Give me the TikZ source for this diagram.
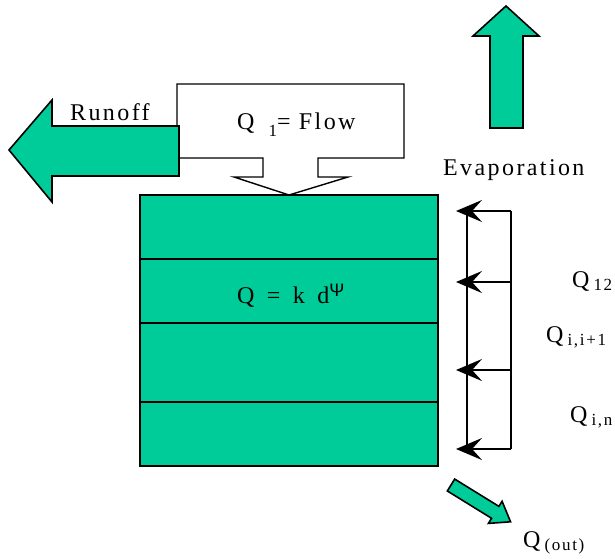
\documentclass[tikz,border=0pt]{standalone}
\usepackage{fontspec}
\setmainfont{Liberation Serif}[LetterSpace=10]
\newfontfamily\symfont{Liberation Sans}
\usetikzlibrary{arrows.meta}
\definecolor{soil}{HTML}{00CC99}
\newcommand{\lfont}{\fontsize{24}{28}\selectfont}
\newcommand{\lowsub}[2][3pt]{\hspace{4pt}{\fontsize{17}{18}\selectfont\raisebox{-#1}{#2}}}
\tikzset{
  fat/.style={draw=black,line width=1.6pt,fill=soil,line join=miter},
  callout/.style={draw=black,line width=1.4pt,fill=white},
  lbl/.style={font=\lfont,inner sep=0pt,anchor=base west},
  ar/.style={-{Stealth[length=26pt,width=22pt,inset=10pt]},line width=1.6pt},
}
\begin{document}
\begin{tikzpicture}[x=1pt,y=-1pt]
\useasboundingbox (0,0) rectangle (615,558);
% inflow
\draw[callout] (177,84) -- (404,84) -- (404,158) -- (318,158) -- (318,177) -- (348,177)
  -- (289,195) -- (234,177) -- (263,177) -- (263,158) -- (177,158) -- cycle;
\draw[fat] (179,126) -- (52,126) -- (52,100) -- (9,150) -- (52,202) -- (52,176) -- (179,176) -- cycle;
\draw[fat] (490,128) -- (490,36) -- (473,36) -- (506,6) -- (539,36) -- (523,36) -- (523,128) -- cycle;
% soil layers
\draw[fat] (140,195) rectangle (438,466);
\foreach \y in {259,323,402}
  \draw[line width=1.6pt] (140,\y) -- (438,\y);
% lateral fluxes
\foreach \i/\y in {1/211,2/282,3/370,4/449} {
  \coordinate (r\i) at (511,\y);
  \coordinate (l\i) at (456,\y);
}
\draw[line width=1.4pt] (r1) -- (r4);
\draw[line width=1.8pt] ([xshift=11pt]l1) -- ([xshift=11pt]l4);
\foreach \i in {1,...,4}
  \draw[ar] (r\i) -- (l\i);
% outflow
\begin{scope}[shift={(451,485)},rotate=-31.7]
\draw[fat] (0,7) -- (52,7) -- (52,13) -- (70,0) -- (52,-13) -- (52,-7) -- (0,-7) -- cycle;
\end{scope}
% labels
\node[lbl] (runoff) at (70,120) {Runoff};
\node[lbl] (flow) at (237,129) {Q\hspace{10pt}\lowsub[7pt]{1}= Flow};
\node[lbl] (evap) at (443,175) {Evaporation};
\node[lbl] (darcy) at (237,303) {Q \,=\, k \,d\raisebox{7pt}{\fontsize{18}{18}\symfont Ψ}};
\node[lbl] (q12) at (572,287) {Q\lowsub{12}};
\node[lbl] (qii) at (546,342) {Q\lowsub{i,i+1}};
\node[lbl] (qin) at (570,422) {Q\lowsub{i,n}};
\node[lbl] (qout) at (523,547) {Q\lowsub{(out)}};
\end{tikzpicture}
\end{document}
